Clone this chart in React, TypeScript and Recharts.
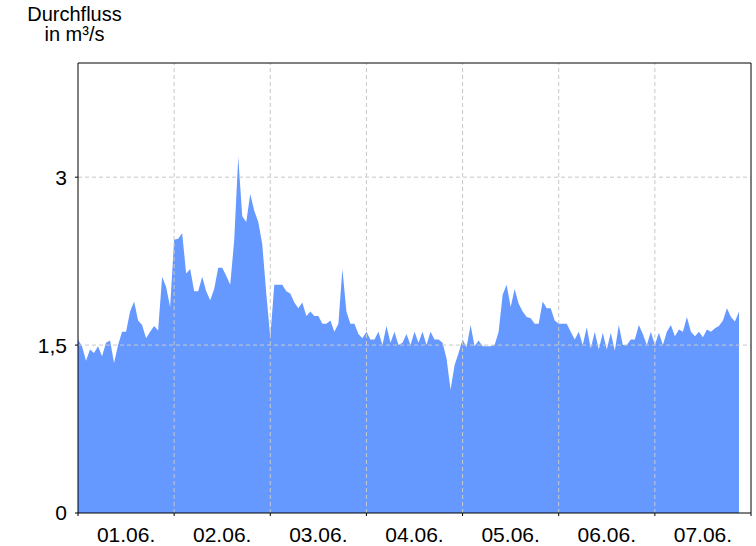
import React from 'react';
import { AreaChart, Area, XAxis, YAxis, ReferenceLine } from 'recharts';

// hourly discharge values in m³/s, one array per day
const flowDay1 = [1.55, 1.49, 1.36, 1.46, 1.43, 1.49, 1.40, 1.52, 1.54, 1.34, 1.50, 1.62, 1.62, 1.80, 1.89, 1.72, 1.68, 1.56, 1.62, 1.67, 1.63, 2.11, 2.02, 1.84];
const flowDay2 = [2.44, 2.45, 2.50, 2.14, 2.18, 1.98, 1.98, 2.11, 1.98, 1.90, 2.00, 2.19, 2.19, 2.12, 2.04, 2.44, 3.18, 2.65, 2.60, 2.85, 2.70, 2.60, 2.40, 1.96];
const flowDay3 = [1.57, 2.04, 2.04, 2.04, 1.98, 1.96, 1.88, 1.83, 1.88, 1.76, 1.80, 1.76, 1.76, 1.69, 1.69, 1.72, 1.62, 1.69, 2.18, 1.80, 1.69, 1.69, 1.60, 1.56];
const flowDay4 = [1.62, 1.55, 1.55, 1.62, 1.50, 1.67, 1.52, 1.62, 1.50, 1.52, 1.60, 1.50, 1.62, 1.52, 1.62, 1.50, 1.62, 1.55, 1.55, 1.52, 1.38, 1.10, 1.32, 1.43];
const flowDay5 = [1.55, 1.48, 1.68, 1.49, 1.54, 1.49, 1.49, 1.49, 1.50, 1.62, 1.95, 2.04, 1.84, 2.00, 1.87, 1.80, 1.75, 1.74, 1.69, 1.69, 1.89, 1.83, 1.83, 1.72];
const flowDay6 = [1.69, 1.69, 1.69, 1.62, 1.55, 1.62, 1.50, 1.66, 1.47, 1.62, 1.46, 1.61, 1.46, 1.61, 1.45, 1.68, 1.50, 1.50, 1.55, 1.55, 1.68, 1.60, 1.50, 1.62];
const flowDay7 = [1.50, 1.61, 1.50, 1.62, 1.68, 1.58, 1.64, 1.62, 1.75, 1.62, 1.58, 1.62, 1.57, 1.64, 1.62, 1.65, 1.67, 1.72, 1.83, 1.75, 1.71, 1.80];

const dayLabels = ['01.06.', '02.06.', '03.06.', '04.06.', '05.06.', '06.06.', '07.06.'];
const dayStarts = [0, 24, 48, 72, 96, 120, 144, 168];
const dayMiddles = [12, 36, 60, 84, 108, 132, 156];
const yTicks = [0, 1.5, 3];

const data = [...flowDay1, ...flowDay2, ...flowDay3, ...flowDay4, ...flowDay5, ...flowDay6, ...flowDay7]
  .map((flow, hour) => ({ hour, flow }));

const FONT = '"Liberation Sans", Arial, sans-serif';
const tickStyle = { fontFamily: FONT, fontSize: 21, fill: '#000' };
const black = { stroke: '#000', strokeWidth: 1 };
const GRID = '#c8c8c8';

export default function App() {
  return (
    <div style={{ position: 'absolute', left: 0, top: 0, width: 756, height: 546, background: '#fff' }}>
      <div
        style={{
          position: 'absolute', left: 24, top: 4, width: 101, textAlign: 'center',
          fontFamily: FONT, fontSize: 20, lineHeight: '20px', color: '#000', zIndex: 1,
        }}
      >
        Durchfluss<br />in m³/s
      </div>
      <AreaChart width={756} height={546} data={data} margin={{ top: 62, right: 4, bottom: 0, left: 0 }}>
        <XAxis
          xAxisId="days" dataKey="hour" type="number" domain={[0, 168]} allowDataOverflow
          ticks={dayStarts} interval={0} height={1} tick={() => <g />} tickSize={3}
          axisLine={black} tickLine={black}
        />
        <XAxis
          xAxisId="labels" dataKey="hour" type="number" domain={[0, 168]} allowDataOverflow
          ticks={dayMiddles} height={32} tickSize={3} tickMargin={10}
          tickFormatter={(v: number) => dayLabels[Math.round((v - 12) / 24)]}
          axisLine={false} tickLine={false} tick={tickStyle} interval={0}
        />
        <XAxis
          xAxisId="top" orientation="top" dataKey="hour" type="number" domain={[0, 168]} allowDataOverflow
          height={1} tick={false} tickLine={false} axisLine={black}
        />
        <YAxis
          yAxisId="left" type="number" domain={[0, 4.02]} allowDataOverflow ticks={yTicks} interval={0}
          width={78} tickSize={3} tickMargin={8} tick={tickStyle}
          tickFormatter={(v: number) => String(v).replace('.', ',')}
          axisLine={black} tickLine={black}
        />
        <YAxis
          yAxisId="right" orientation="right" type="number" domain={[0, 4.02]} allowDataOverflow
          width={1} tick={false} tickLine={false} axisLine={black}
        />
        <Area
          xAxisId="days" yAxisId="left" dataKey="flow" type="linear"
          fill="#6699ff" fillOpacity={1} stroke="none" isAnimationActive={false}
        />
        {/* grid drawn over the area, as in the original */}
        {dayStarts.slice(1, -1).map((d) => (
          <ReferenceLine key={'v' + d} xAxisId="days" yAxisId="left" x={d} stroke={GRID} strokeDasharray="4 3" />
        ))}
        {yTicks.slice(1).map((t) => (
          <ReferenceLine key={'h' + t} xAxisId="days" yAxisId="left" y={t} stroke={GRID} strokeDasharray="4 3" />
        ))}
      </AreaChart>
    </div>
  );
}
